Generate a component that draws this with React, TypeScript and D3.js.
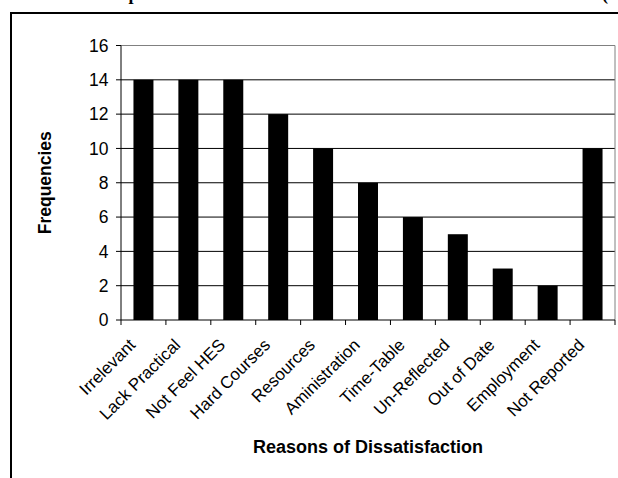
import React from "react";
import * as d3 from "d3";

const categories = [
  "Irrelevant",
  "Lack Practical",
  "Not Feel HES",
  "Hard Courses",
  "Resources",
  "Aministration",
  "Time-Table",
  "Un-Reflected",
  "Out of Date",
  "Employment",
  "Not Reported",
];
const frequencies = [14, 14, 14, 12, 10, 8, 6, 5, 3, 2, 10];
const yTicks = [0, 2, 4, 6, 8, 10, 12, 14, 16];
const yTitle = "Frequencies";
const xTitle = "Reasons of Dissatisfaction";
const pageTitle = "Graph 4: Reasons of Dissatisfaction with the Curriculum (";

const W = 618;
const H = 478;
const PL = 121;
const PR = 615;
const PT = 45.5;
const PB = 320;
const FONT = "'Liberation Sans', Arial, sans-serif";

export default function App() {
  const x = d3
    .scaleBand<string>()
    .domain(categories)
    .range([PL, PR])
    .paddingInner(0.555)
    .paddingOuter(0.2775);
  const y = d3.scaleLinear().domain([0, 16]).range([PB, PT]);
  const step = x.step();
  const bounds = d3.range(categories.length + 1).map((k) => PL + k * step);

  return (
    <svg
      width={W}
      height={H}
      style={{ position: "absolute", left: 0, top: 0, background: "#fff" }}
    >
      <rect x={0} y={0} width={W} height={H} fill="#fff" />
      {/* page title, cut off at the top edge */}
      <text
        x={94}
        y={0}
        fontFamily="'Liberation Serif', 'Times New Roman', serif"
        fontWeight="bold"
        fontSize={18}
        textLength={514}
        lengthAdjust="spacing"
        fill="#000"
      >
        {pageTitle}
      </text>
      {/* outer frame */}
      <rect x={11} y={13} width={700} height={600} fill="none" stroke="#000" strokeWidth={2} />

      {/* gridlines */}
      {yTicks.filter((t) => t > 0).map((t) => (
        <line
          key={"g" + t}
          x1={PL}
          x2={PR}
          y1={y(t)}
          y2={y(t)}
          stroke={t === 16 ? "#808080" : "#000"}
          strokeWidth={1}
        />
      ))}
      {/* plot right border */}
      <line x1={PR} x2={PR} y1={PT} y2={PB} stroke="#808080" strokeWidth={1} />

      {/* bars */}
      {categories.map((c, i) => (
        <rect
          key={c}
          x={x(c)!}
          y={y(frequencies[i])}
          width={x.bandwidth()}
          height={PB - y(frequencies[i])}
          fill="#000"
        />
      ))}

      {/* axes */}
      <line x1={PL} x2={PL} y1={PT} y2={PB} stroke="#000" strokeWidth={1} />
      <line x1={PL} x2={PR} y1={PB} y2={PB} stroke="#000" strokeWidth={1} />
      {yTicks.map((t) => (
        <g key={"yt" + t}>
          <line x1={PL - 5} x2={PL} y1={y(t)} y2={y(t)} stroke="#000" />
          <text
            x={108.5}
            y={y(t)}
            dy="0.36em"
            textAnchor="end"
            fontFamily={FONT}
            fontSize={17.5}
            fill="#000"
          >
            {t}
          </text>
        </g>
      ))}
      {bounds.map((b, k) => (
        <line key={"xt" + k} x1={b} x2={b} y1={PB} y2={PB + 5} stroke="#000" />
      ))}
      {categories.map((c) => {
        const cx = x(c)! + x.bandwidth() / 2 - 7;
        const cy = 346;
        return (
          <text
            key={"xl" + c}
            x={cx}
            y={cy}
            transform={`rotate(-45, ${cx}, ${cy})`}
            textAnchor="end"
            fontFamily={FONT}
            fontSize={17}
            fill="#000"
          >
            {c}
          </text>
        );
      })}

      {/* axis titles */}
      <text
        x={0}
        y={0}
        transform={`translate(51, ${(PT + PB) / 2}) rotate(-90)`}
        textAnchor="middle"
        fontFamily={FONT}
        fontWeight="bold"
        fontSize={17.5}
        fill="#000"
      >
        {yTitle}
      </text>
      <text
        x={(PL + PR) / 2}
        y={453}
        textAnchor="middle"
        fontFamily={FONT}
        fontWeight="bold"
        fontSize={18}
        fill="#000"
      >
        {xTitle}
      </text>
    </svg>
  );
}
